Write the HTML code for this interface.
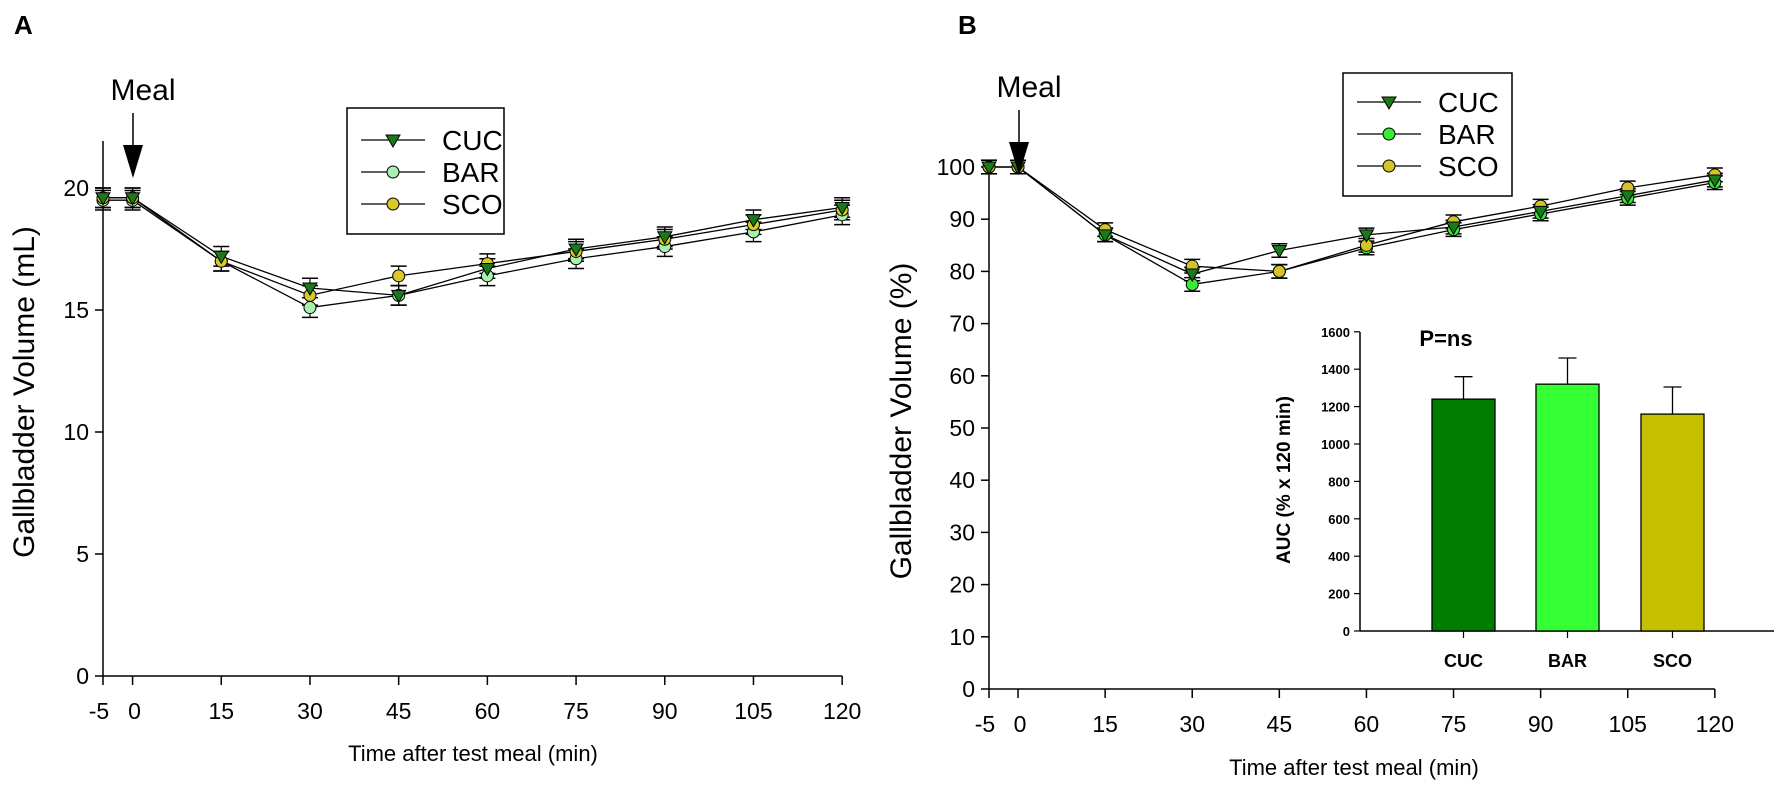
<!DOCTYPE html>
<html><head><meta charset="utf-8"><style>
html,body{margin:0;padding:0;background:#fff}
svg{display:block;font-family:"Liberation Sans",Arial,sans-serif}
</style></head><body>
<svg id="s" width="1783" height="788" viewBox="0 0 1783 788" xmlns="http://www.w3.org/2000/svg"></svg>
<script>
var S=document.getElementById('s'),o='';
function L(x1,y1,x2,y2,w){o+='<line x1="'+x1+'" y1="'+y1+'" x2="'+x2+'" y2="'+y2+'" stroke="#000" stroke-width="'+(w||1.5)+'"/>';}
function T(x,y,t,sz,anc,ex){o+='<text x="'+x+'" y="'+y+'" font-size="'+sz+'" text-anchor="'+(anc||'start')+'" '+(ex||'')+'>'+t+'</text>';}
function mk(t,x,y,c){
 if(t==0)o+='<polygon points="'+(x-7)+','+(y-5)+' '+(x+7)+','+(y-5)+' '+x+','+(y+7)+'" fill="'+c+'" stroke="#000" stroke-width="1"/>';
 else o+='<circle cx="'+x+'" cy="'+y+'" r="6" fill="'+c+'" stroke="#000" stroke-width="1"/>';
}
var xs=[-5,0,15,30,45,60,75,90,105,120];
function panel(P){
 var px=function(t){return P.x0+(t+5)*P.dx;};
 L(P.ax,P.top,P.ax,P.y0);L(P.ax,P.y0,px(120),P.y0);
 P.yt.forEach(function(v){var y=P.py(v);L(P.ax-8,y,P.ax,y);T(P.ax-14,y+8,v,P.ysz,'end');});
 xs.forEach(function(t){var x=px(t);L(x,P.y0,x,P.y0+9);});
 T(px(-5)-4,P.y0+43,'-5',P.xsz,'middle');
 xs.slice(1).forEach(function(t){T(px(t)+(t==0?2:0),P.y0+43,t,P.xsz,'middle');});
 var ser=P.series;
 ser.forEach(function(s){
  var pts=s.d.map(function(v,i){return px(xs[i])+','+P.py(v);}).join(' ');
  o+='<polyline points="'+pts+'" fill="none" stroke="#000" stroke-width="1.3"/>';
 });
 ser.forEach(function(s){
  s.d.forEach(function(v,i){var x=px(xs[i]);var e=P.err;
   if(e){L(x,P.py(v+e),x,P.py(v-e),1.2);L(x-8,P.py(v+e),x+8,P.py(v+e),1.5);L(x-8,P.py(v-e),x+8,P.py(v-e),1.5);}
  });
 });
 [1,2,0].forEach(function(k){var s=ser[k];s.d.forEach(function(v,i){mk(s.m,px(xs[i]),P.py(v),s.c);});});
 var g=P.lg;o+='<rect x="'+g.x+'" y="'+g.y+'" width="'+g.w+'" height="'+g.h+'" fill="#fff" stroke="#000" stroke-width="1.5"/>';
 ser.forEach(function(s,i){var y=g.r[i];L(g.x+14,y,g.x+78,y,1.3);mk(s.m,g.x+46,y,s.c);T(g.x+95,y+10,s.n,28);});
 T(P.mx+10,P.my,'Meal',30,'middle');
 L(P.mx,P.my+13,P.mx,P.my+50,1.5);
 o+='<polygon points="'+(P.mx-10)+','+(P.my+45)+' '+(P.mx+10)+','+(P.my+45)+' '+P.mx+','+(P.my+78)+'" fill="#000"/>';
}
var pyA=function(v){return 676-v*24.4;};
panel({x0:103,dx:88.7/15,ax:103,top:141,y0:676,py:pyA,yt:[0,5,10,15,20],ysz:23,xsz:23,err:0.4,
 series:[
 {n:'CUC',m:0,c:'#1a7a1a',d:[19.6,19.6,17.2,15.9,15.6,16.7,17.5,18.0,18.7,19.2]},
 {n:'BAR',m:1,c:'#a8f0b0',d:[19.5,19.5,17.0,15.1,15.6,16.4,17.1,17.6,18.2,18.9]},
 {n:'SCO',m:1,c:'#d8c828',d:[19.6,19.6,17.0,15.6,16.4,16.9,17.4,17.9,18.5,19.1]}],
 lg:{x:347,y:108,w:157,h:126,r:[140,172,204]},mx:133,my:100});
var pyB=function(v){return 689-v*5.22;};
panel({x0:989,dx:87.1/15,ax:989,top:160,y0:689,py:pyB,yt:[0,10,20,30,40,50,60,70,80,90,100],ysz:23,xsz:23,err:1.3,
 series:[
 {n:'CUC',m:0,c:'#1a7a1a',d:[100,100,87,79.5,84,87,88.5,91.5,94.5,97.5]},
 {n:'BAR',m:1,c:'#33ee33',d:[100,100,87,77.5,80,84.5,88,91,94,97]},
 {n:'SCO',m:1,c:'#d4c428',d:[100,100,88,81,80,85,89.5,92.5,96,98.5]}],
 lg:{x:1343,y:73,w:169,h:123,r:[102,134,166]},mx:1019,my:97});
T(14,34,'A',26,'start','font-weight="bold"');
T(958,34,'B',26,'start','font-weight="bold"');
T(473,761,'Time after test meal (min)',22,'middle');
T(1354,775,'Time after test meal (min)',22,'middle');
T(0,0,'Gallbladder Volume (mL)',30,'middle','transform="translate(34,392) rotate(-90)"');
T(0,0,'Gallbladder Volume (%)',30,'middle','transform="translate(911,421) rotate(-90)"');
var iy=function(v){return 631-v*0.187;};
L(1360,332,1360,631);L(1360,631,1774,631);
[0,200,400,600,800,1000,1200,1400,1600].forEach(function(v){var y=iy(v);L(1354,y,1360,y,1.2);T(1350,y+5,v,13,'end','font-weight="bold"');});
var bars=[['CUC',1432,1240,1360,'#007d00'],['BAR',1536,1320,1460,'#33ff33'],['SCO',1641,1160,1305,'#c4c000']];
bars.forEach(function(b){var x=b[1],w=63,c=x+w/2;
 L(c,iy(b[3]),c,iy(b[2]),1.3);L(c-9,iy(b[3]),c+9,iy(b[3]),1.3);
 o+='<rect x="'+x+'" y="'+iy(b[2])+'" width="'+w+'" height="'+(631-iy(b[2]))+'" fill="'+b[4]+'" stroke="#000" stroke-width="1.3"/>';
 L(c,631,c,638,1.2);
 T(c,667,b[0],18,'middle','font-weight="bold"');
});
T(1446,346,'P=ns',22,'middle','font-weight="bold"');
T(0,0,'AUC (% x 120 min)',19,'middle','font-weight="bold" transform="translate(1290,480) rotate(-90)"');
S.innerHTML=o;
</script>
</body></html>
